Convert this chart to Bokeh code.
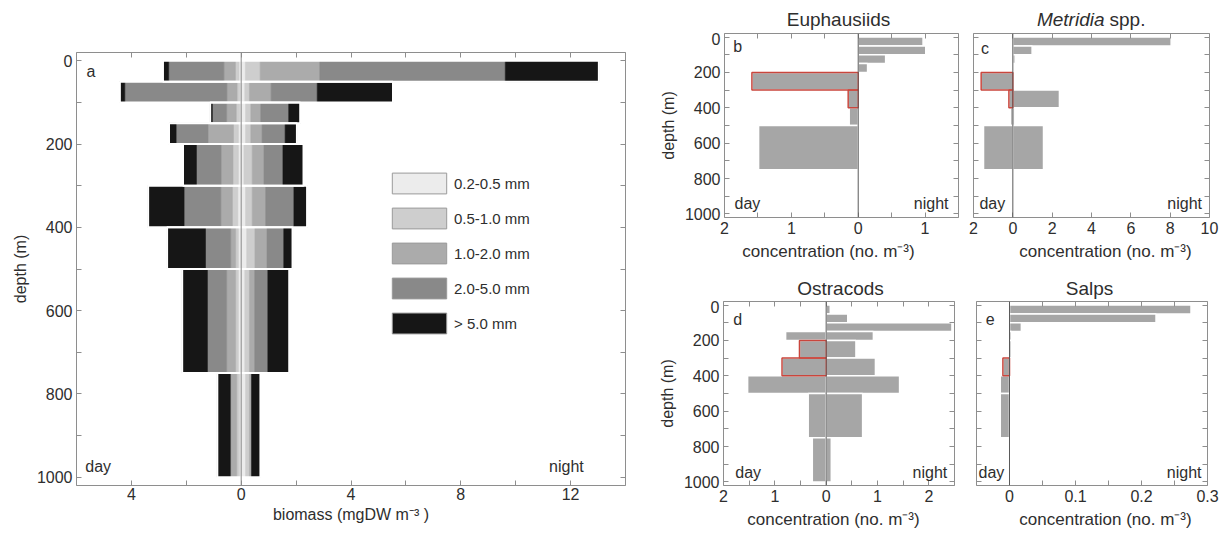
import numpy as np
from bokeh.plotting import figure
from bokeh.models import (Range1d, FixedTicker, LinearAxis, Span, Label,
                          Legend, LegendItem)
from bokeh.core.properties import value
from bokeh.layouts import row, column
from bokeh.embed import file_html
from bokeh.resources import INLINE

FONT = "Liberation Sans"
TXT = "#2e2e2e"
FRAME = "#8e8e8e"
BAR = "#a6a6a6"
RED = "#c9463d"
ZERO = "#5a5a5a"
SIZE_COLORS = ["#ececec", "#cecece", "#ababab", "#898989", "#161616"]

# ---------------- data ----------------
depth_top = [0, 50, 100, 150, 200, 300, 400, 500, 750]
depth_bottom = [50, 100, 150, 200, 300, 400, 500, 750, 1000]
depth_major = [0, 200, 400, 600, 800, 1000]
depth_minor = [100, 300, 500, 700, 900]

size_classes = ["0.2-0.5 mm", "0.5-1.0 mm", "1.0-2.0 mm", "2.0-5.0 mm", "> 5.0 mm"]

# panel a: biomass (mgDW m-3) per size class, day (left) and night (right)
day_02_05 = [0.08, 0.05, 0.05, 0.10, 0.10, 0.12, 0.10, 0.10, 0.06]
day_05_10 = [0.13, 0.10, 0.13, 0.18, 0.20, 0.20, 0.10, 0.10, 0.10]
day_10_20 = [0.42, 0.37, 0.35, 0.93, 0.43, 0.42, 0.18, 0.33, 0.22]
day_20_50 = [2.01, 3.72, 0.52, 1.16, 0.90, 1.34, 0.92, 0.70, 0.02]
day_gt5 = [0.21, 0.18, 0.08, 0.26, 0.49, 1.31, 1.40, 0.92, 0.47]

night_02_05 = [0.15, 0.13, 0.16, 0.16, 0.10, 0.16, 0.20, 0.13, 0.16]
night_05_10 = [0.54, 0.17, 0.19, 0.19, 0.30, 0.24, 0.30, 0.17, 0.14]
night_10_20 = [2.17, 0.79, 0.36, 0.41, 0.43, 0.49, 0.44, 0.19, 0.08]
night_20_50 = [6.76, 1.68, 1.02, 0.84, 0.69, 1.03, 0.61, 0.48, 0.00]
night_gt5 = [3.41, 2.76, 0.42, 0.43, 0.75, 0.48, 0.32, 0.78, 0.32]

# panels b-e: concentration (no. m-3)
euph_day = [0, 0, 0, 0, 1.59, 0.15, 0.135, 1.49, 0]
euph_night = [0.97, 1.01, 0.41, 0.14, 0, 0, 0, 0, 0]
euph_red = [0, 0, 0, 0, 1, 1, 0, 0, 0]

metr_day = [0, 0, 0, 0, 1.61, 0.20, 0.12, 1.49, 0]
metr_night = [8.05, 0.98, 0.12, 0, 0, 2.37, 0.10, 1.56, 0]
metr_red = [0, 0, 0, 0, 1, 1, 0, 0, 0]

ostr_day = [0, 0, 0, 0.79, 0.52, 0.86, 1.53, 0.35, 0.27]
ostr_night = [0.08, 0.42, 2.45, 0.92, 0.58, 0.96, 1.43, 0.71, 0.10]
ostr_red = [0, 0, 0, 0, 1, 1, 0, 0, 0]

salp_day = [0, 0, 0, 0, 0, 0.010, 0.014, 0.014, 0]
salp_night = [0.275, 0.222, 0.018, 0.003, 0.003, 0, 0, 0, 0]
salp_red = [0, 0, 0, 0, 0, 1, 0, 0, 0]

CONC_LABEL = "concentration (no. m\u207b\u00b3)"


# ---------------- helpers ----------------
def style_axis(ax, size="16px"):
    ax.axis_line_color = None
    ax.major_tick_in = 5
    ax.major_tick_out = 0
    ax.minor_tick_in = 5
    ax.minor_tick_out = 0
    ax.major_tick_line_color = FRAME
    ax.minor_tick_line_color = FRAME
    ax.major_label_text_font = FONT
    ax.major_label_text_font_size = size
    ax.major_label_text_color = TXT
    ax.axis_label_text_font = FONT
    ax.axis_label_text_font_size = size
    ax.axis_label_text_color = TXT
    ax.axis_label_text_font_style = "normal"


def make_panel(width, height, borders, x_range, x_major, x_minor, x_over,
               xlabel, ylabel, x_standoff=4):
    left, right, top, bottom = borders
    p = figure(width=width, height=height, x_range=Range1d(*x_range),
               y_range=Range1d(1020, -20), output_backend="svg",
               toolbar_location=None, min_border_left=left,
               min_border_right=right, min_border_top=top,
               min_border_bottom=bottom)
    p.xgrid.visible = False
    p.ygrid.visible = False
    p.outline_line_color = FRAME
    p.background_fill_color = "white"
    p.border_fill_color = "white"
    xa = p.below[0]
    ya = p.left[0]
    style_axis(xa)
    style_axis(ya)
    xa.ticker = FixedTicker(ticks=x_major, minor_ticks=x_minor)
    xa.major_label_overrides = x_over
    if xlabel:
        xa.axis_label = xlabel
        xa.axis_label_standoff = 3
    xa.major_label_standoff = x_standoff
    if ylabel:
        ya.ticker = FixedTicker(ticks=depth_major, minor_ticks=depth_minor)
        ya.axis_label = ylabel
        ya.major_label_standoff = 4
        ya.axis_label_standoff = 5
    else:
        ya.ticker = FixedTicker(ticks=[], minor_ticks=depth_major + depth_minor)
        ya.major_label_standoff = 0
    top_ax = LinearAxis(ticker=FixedTicker(ticks=[], minor_ticks=x_major + x_minor))
    right_ax = LinearAxis(ticker=FixedTicker(ticks=[], minor_ticks=depth_major + depth_minor))
    for ax in (top_ax, right_ax):
        style_axis(ax)
        ax.major_label_standoff = 0
        ax.axis_label_standoff = 0
    p.add_layout(top_ax, "above")
    p.add_layout(right_ax, "right")
    return p


def txt(p, x, y, text, align="left", size="16px", style="normal"):
    p.add_layout(Label(x=x, y=y, text=text, text_align=align,
                       text_baseline="middle", text_font=FONT,
                       text_font_size=size, text_font_style=style,
                       text_color=TXT))


def conc_bars(p, day, night, red):
    top = np.array(depth_top, float)
    bot = np.array(depth_bottom, float)
    day = np.array(day, float)
    night = np.array(night, float)
    red = np.array(red, bool)
    m = day > 0
    p.quad(left=-day[m], right=0, top=top[m], bottom=bot[m],
           fill_color=BAR, line_color="white", line_width=1.5)
    n = night > 0
    p.quad(left=0, right=night[n], top=top[n], bottom=bot[n],
           fill_color=BAR, line_color="white", line_width=1.5)
    r = red & m
    p.quad(left=-day[r], right=0, top=top[r], bottom=bot[r],
           fill_color=None, line_color=RED, line_width=1.5)
    p.add_layout(Span(location=0, dimension="height", line_color=ZERO,
                      line_width=1))


def text_strip(width, height, x0, texts):
    """A blank strip between rows of panels holding panel titles and
    x-axis labels.  x/y are page pixels (x from x0, y from the strip top)."""
    s = figure(width=width, height=height, x_range=Range1d(x0, x0 + width),
               y_range=Range1d(height, 0), output_backend="svg",
               toolbar_location=None, min_border=0,
               x_axis_location=None, y_axis_location=None)
    s.grid.visible = False
    s.outline_line_color = None
    s.background_fill_color = "white"
    s.border_fill_color = "white"
    for (tx, ty, text, align, style, size) in texts:
        s.text(x=[tx], y=[ty], text=[text], text_align=align,
               text_baseline="middle", text_font=value(FONT),
               text_font_size=value(size), text_font_style=style,
               text_color=TXT)
    return s


# ---------------- panel a ----------------
pa = make_panel(655, 533, (76, 30, 52, 48), (-6, 14),
                [-4, 0, 4, 8, 12], [-6, -2, 2, 6, 10, 14], {-4: "4"},
                "biomass (mgDW m\u207b\u00b3 )", "depth (m)", x_standoff=2)

day_classes = np.array([day_02_05, day_05_10, day_10_20, day_20_50, day_gt5])
night_classes = np.array([night_02_05, night_05_10, night_10_20, night_20_50, night_gt5])
day_cum = np.cumsum(day_classes, axis=0)
night_cum = np.cumsum(night_classes, axis=0)
zeros = np.zeros(len(depth_top))
for k in range(len(size_classes)):
    d_in = day_cum[k - 1] if k > 0 else zeros
    n_in = night_cum[k - 1] if k > 0 else zeros
    pa.quad(left=-day_cum[k], right=-d_in, top=depth_top, bottom=depth_bottom,
            fill_color=SIZE_COLORS[k], line_color=SIZE_COLORS[k], line_width=0.6)
    pa.quad(left=n_in, right=night_cum[k], top=depth_top, bottom=depth_bottom,
            fill_color=SIZE_COLORS[k], line_color=SIZE_COLORS[k], line_width=0.6)
pa.quad(left=-day_cum[-1], right=night_cum[-1], top=depth_top, bottom=depth_bottom,
        fill_color=None, line_color="white", line_width=2)
pa.add_layout(Span(location=0, dimension="height", line_color="#8a8a8a", line_width=1))

# legend swatches (NaN geometry: only used for the legend)
items = []
nan = np.array([np.nan])
for k, name in enumerate(size_classes):
    proxy = pa.quad(left=nan, right=nan, top=nan, bottom=nan,
                    fill_color=SIZE_COLORS[k], line_color="#9a9a9a", line_width=1)
    items.append(LegendItem(label=name, renderers=[proxy]))
legend = Legend(items=items, location=(309, 149), glyph_width=68,
                glyph_height=26, spacing=9, label_standoff=1, padding=0,
                margin=0, border_line_color=None, background_fill_alpha=0,
                label_text_font=FONT, label_text_font_size="15px",
                label_text_color=TXT, label_height=20,
                label_text_baseline="hanging")
pa.add_layout(legend)

txt(pa, -5.64, 25, "a")
txt(pa, -5.68, 974, "day")
txt(pa, 12.48, 975, "night", align="right")

# ---------------- panel b ----------------
pb = make_panel(311, 209, (69, 8, 1, 24), (-2, 1.5),
                [-2, -1, 0, 1], [-1.5, -0.5, 0.5, 1.5], {-2: "2", -1: "1"},
                None, "depth (m)")
conc_bars(pb, euph_day, euph_night, euph_red)
txt(pb, -1.87, 55, "b")
txt(pb, -1.85, 941, "day")
txt(pb, 1.35, 941, "night", align="right")

# ---------------- panel c ----------------
pc = make_panel(256, 209, (7, 13, 1, 24), (-2, 10),
                [-2, 0, 2, 4, 6, 8, 10], [], {-2: "2"},
                None, None)
conc_bars(pc, metr_day, metr_night, metr_red)
txt(pc, -1.62, 65, "c")
txt(pc, -1.70, 941, "day")
txt(pc, 9.62, 941, "night", align="right")

# ---------------- panel d ----------------
pd_ = make_panel(311, 209, (66, 12, 1, 24), (-2, 2.5),
                 [-2, -1, 0, 1, 2], [-1.5, -0.5, 0.5, 1.5, 2.5], {-2: "2", -1: "1"},
                 None, "depth (m)")
conc_bars(pd_, ostr_day, ostr_night, ostr_red)
txt(pd_, -1.81, 80, "d")
txt(pd_, -1.77, 945, "day")
txt(pd_, 2.36, 945, "night", align="right")

# ---------------- panel e ----------------
pe = make_panel(256, 209, (10, 15, 1, 24), (-0.05, 0.3),
                [0, 0.1, 0.2, 0.3], [-0.05, 0.05, 0.15, 0.25], {0: "0"},
                None, None)
conc_bars(pe, salp_day, salp_night, salp_red)
txt(pe, -0.036, 80, "e")
txt(pe, -0.047, 945, "day")
txt(pe, 0.291, 945, "night", align="right")

# ---------------- titles and x labels of panels b-e ----------------
strip_top = text_strip(567, 32, 655, [
    (838, 18.5, "Euphausiids", "center", "normal", "19px"),
    (1104, 18.5, "Metridia", "right", "italic", "19px"),
    (1109, 18.5, "spp.", "left", "normal", "19px"),
])
strip_mid = text_strip(567, 59, 655, [
    (828, 10, CONC_LABEL, "center", "normal", "17px"),
    (1105, 10, CONC_LABEL, "center", "normal", "17px"),
    (840, 47, "Ostracods", "center", "normal", "19px"),
    (1089, 47, "Salps", "center", "normal", "19px"),
])
strip_bottom = text_strip(567, 24, 655, [
    (833, 10, CONC_LABEL, "center", "normal", "17px"),
    (1105, 10, CONC_LABEL, "center", "normal", "17px"),
])

layout = row(pa, column(strip_top, row(pb, pc), strip_mid, row(pd_, pe),
                        strip_bottom))

open("out.html", "w").write(file_html(layout, INLINE))
